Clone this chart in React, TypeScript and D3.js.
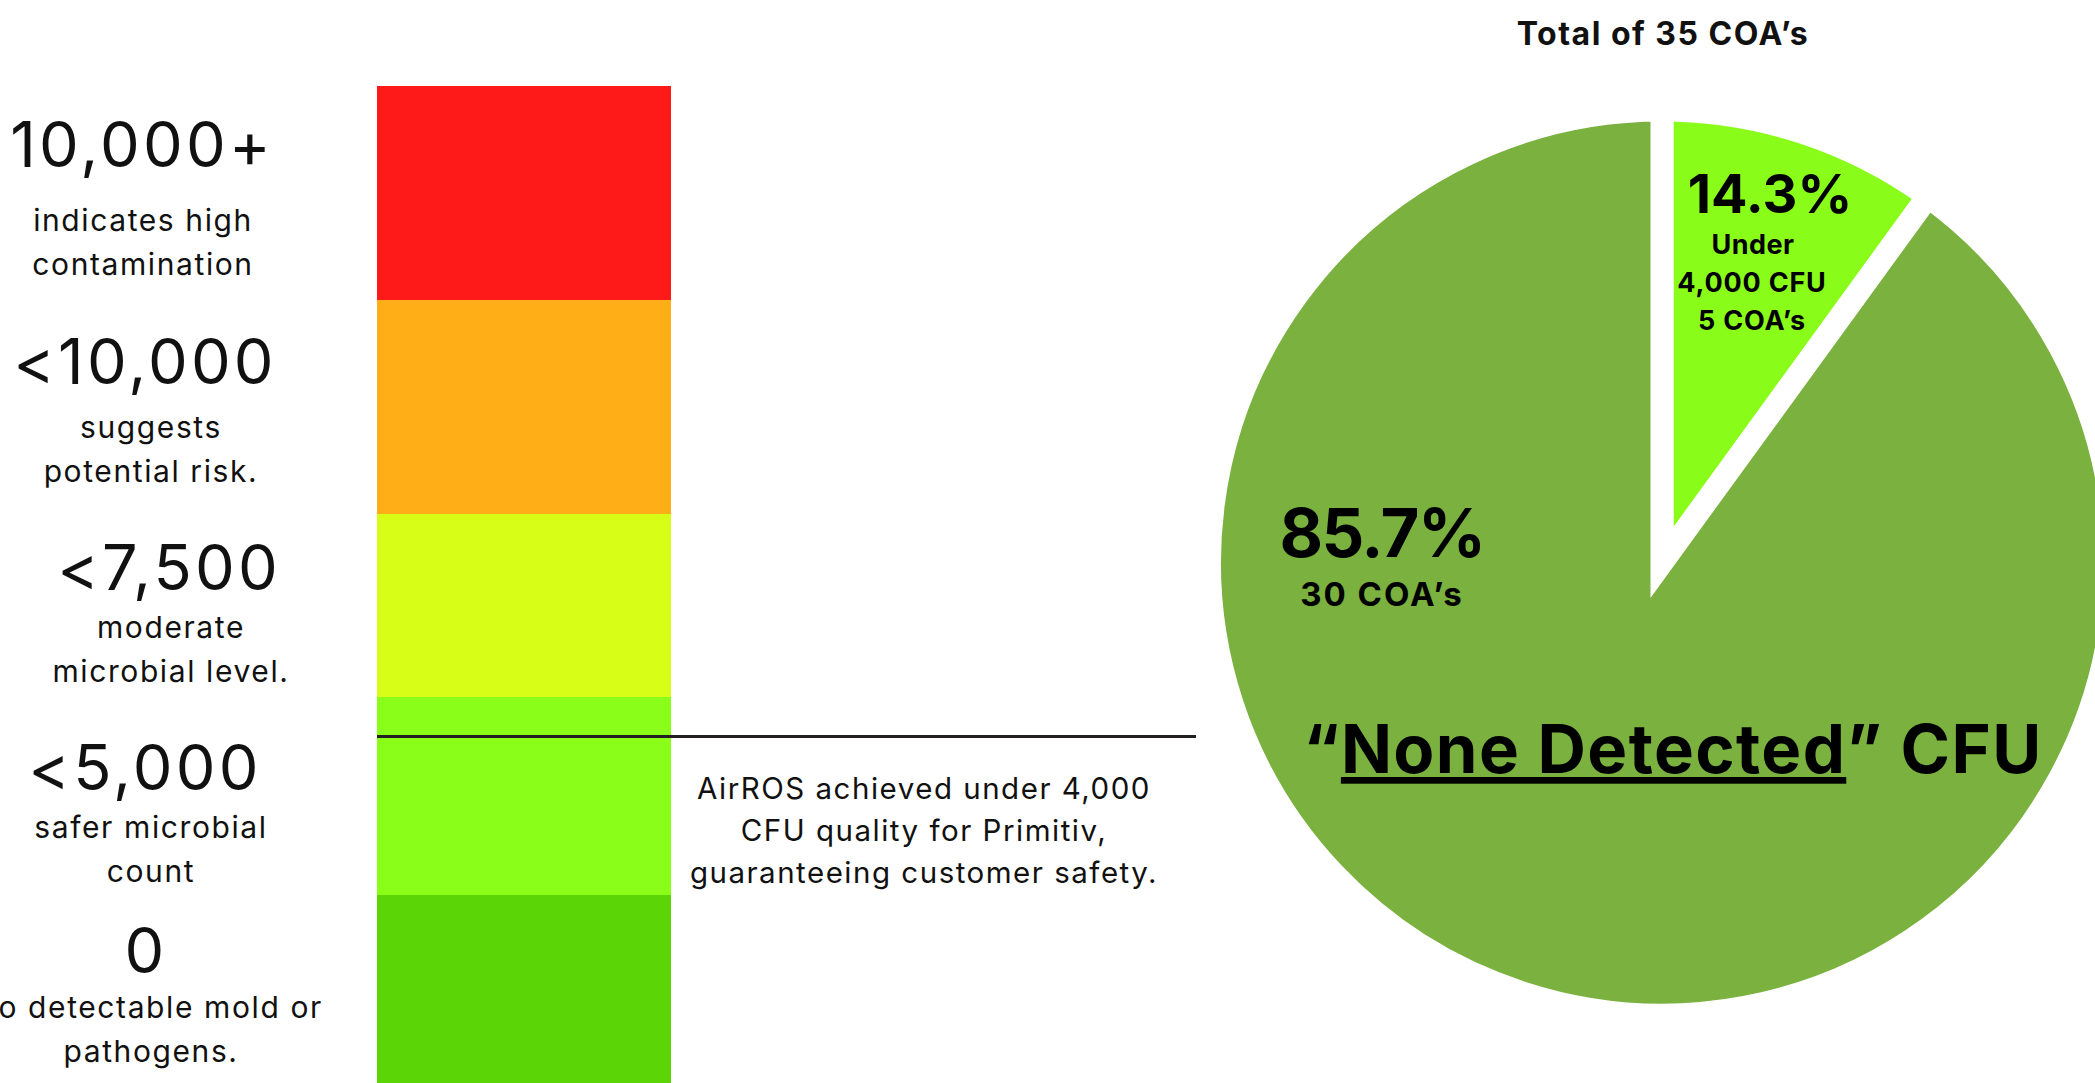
import React from "react";
import * as d3 from "d3";

// ---- data ----
const levels = ["10,000+", "<10,000", "<7,500", "<5,000", "0"];
const levelNotes = [
  ["indicates high", "contamination"],
  ["suggests", "potential risk."],
  ["moderate", "microbial level."],
  ["safer microbial", "count"],
  ["no detectable mold or", "pathogens."],
];
const markerLevel = 3.2; // AirROS result position on the level scale
const markerNote = [
  "AirROS achieved under 4,000",
  "CFU quality for Primitiv,",
  "guaranteeing customer safety.",
];
const totalTitle = "Total of 35 COA\u2019s";
const pieCategories = ["Under 4,000 CFU", "None Detected"];
const pieCounts = [5, 30];
const piePercents = ["14.3%", "85.7%"];
const pieDrawnShare = [10, 90]; // slice sizes as drawn in the picture

// ---- styles / layout ----
const levelColors = ["#FE1A19", "#FFAE17", "#D7FE17", "#8AFD19", "#5BD505"];
const pieColors = ["#8AFC19", "#7AB13F"];
const FONT = "Inter, 'Open Sans', sans-serif";
const W = 2095;
const H = 1083;

const numberLayout = [
  { cx: 140, y: 167 },
  { cx: 143, y: 384 },
  { cx: 167, y: 590 },
  { cx: 143, y: 790 },
  { cx: 144, y: 973 },
];
const noteLayout = [
  { cx: 142, y: 231 },
  { cx: 150, y: 438 },
  { cx: 170, y: 638 },
  { cx: 150, y: 838 },
  { cx: 150, y: 1018 },
];

export default function App() {
  React.useEffect(() => {
    document.body.style.margin = "0";
    document.body.style.overflow = "hidden";
  }, []);

  // level bar scale (piecewise)
  const y = d3
    .scaleLinear()
    .domain(d3.range(levels.length + 1))
    .range([86, 300, 514, 697, 895, 1083]);
  const barX = d3.scaleLinear().domain([0, 1]).range([377, 671]);

  // pie
  const cx = 1662;
  const cy = 562.5;
  const R = 441;
  const gap = 23;
  const pie = d3
    .pie<number>()
    .sort(null)
    .value((d) => d)
    .startAngle(0)
    .endAngle(2 * Math.PI);
  const arcs = pie(pieDrawnShare);
  const arc = d3
    .arc<d3.PieArcDatum<number>>()
    .innerRadius(0)
    .outerRadius(R + gap / 2);

  const lineH = 44;

  return (
    <svg
      width={W}
      height={H}
      style={{ display: "block", position: "absolute", left: 0, top: 0 }}
      fontFamily={FONT}
    >
      <rect x={0} y={0} width={W} height={H} fill="#fff" />

      {/* level bar */}
      {levels.map((lv, i) => (
        <rect
          key={lv}
          x={barX(0)}
          y={y(i)}
          width={barX(1) - barX(0)}
          height={y(i + 1) - y(i)}
          fill={levelColors[i]}
        />
      ))}

      {/* level labels */}
      {levels.map((lv, i) => (
        <g key={"lab" + i} fill="#111">
          <text
            x={numberLayout[i].cx + 2}
            y={numberLayout[i].y}
            textAnchor="middle"
            fontSize={63}
            letterSpacing={3.2}
          >
            {lv}
          </text>
          {levelNotes[i].map((t, j) => (
            <text
              key={j}
              x={noteLayout[i].cx + 1}
              y={noteLayout[i].y + j * lineH}
              textAnchor="middle"
              fontSize={30}
              letterSpacing={1.6}
            >
              {t}
            </text>
          ))}
        </g>
      ))}

      {/* marker line */}
      <line
        x1={barX(0)}
        x2={1196}
        y1={y(markerLevel)}
        y2={y(markerLevel)}
        stroke="#231F20"
        strokeWidth={3}
      />
      {markerNote.map((t, j) => (
        <text
          key={j}
          x={924}
          y={y(markerLevel) + 62 + j * 42}
          textAnchor="middle"
          fontSize={29.5}
          letterSpacing={1.5}
          fill="#111"
        >
          {t}
        </text>
      ))}

      {/* title */}
      <text
        x={cx + 1}
        y={45}
        textAnchor="middle"
        fontSize={32}
        fontWeight={700}
        letterSpacing={1.5}
        fill="#111"
      >
        {totalTitle}
      </text>

      {/* pie */}
      <g transform={`translate(${cx},${cy})`}>
        {arcs.map((a, i) => (
          <path
            key={pieCategories[i]}
            d={arc(a) || ""}
            fill={pieColors[i]}
            stroke="#fff"
            strokeWidth={gap}
            strokeLinejoin="miter"
          />
        ))}
      </g>

      {/* slice labels */}
      <g fill="#000" fontWeight={700} textAnchor="middle">
        <text x={1770} y={213} fontSize={54}>
          {piePercents[0]}
        </text>
        <text x={1753} y={254} fontSize={27} letterSpacing={0.5}>
          Under
        </text>
        <text x={1752} y={292} fontSize={27} letterSpacing={0.8}>
          4,000 CFU
        </text>
        <text x={1752} y={330} fontSize={27} letterSpacing={0.8}>
          {pieCounts[0]} COA{"\u2019"}s
        </text>

        <text x={1382} y={557} fontSize={67} letterSpacing={-1.5}>
          {piePercents[1]}
        </text>
        <text x={1382} y={606} fontSize={33} letterSpacing={2}>
          {pieCounts[1]} COA{"\u2019"}s
        </text>

        <text x={1673} y={773} fontSize={67} letterSpacing={1.4}>
          {"\u201C"}
          <tspan textDecoration="underline">{pieCategories[1]}</tspan>
          {"\u201D CFU"}
        </text>
      </g>
    </svg>
  );
}
